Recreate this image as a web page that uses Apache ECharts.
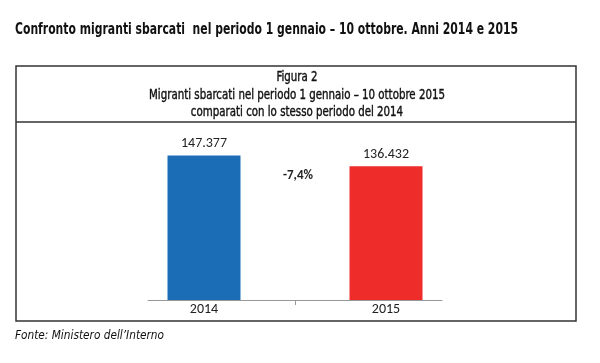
<!DOCTYPE html>
<html>
<head>
<meta charset="utf-8">
<script src="https://cdn.jsdelivr.net/npm/echarts@6/dist/echarts.min.js"></script>
<style>html,body{margin:0;padding:0;background:#fff}#c{width:600px;height:363px}</style>
</head>
<body>
<div id="c"></div>
<script>
const categories = ['2014', '2015'];
const values = [147377, 136432];
const barColors = ['#1B6DB5', '#EE2D2B'];
const mainTitle = 'Confronto migranti sbarcati  nel periodo 1 gennaio – 10 ottobre. Anni 2014 e 2015';
const figTitle = 'Figura 2';
const figSub1 = 'Migranti sbarcati nel periodo 1 gennaio – 10 ottobre 2015';
const figSub2 = 'comparati con lo stesso periodo del 2014';
const sourceText = 'Fonte: Ministero dell’Interno';

function fmtIt(v) {
  return String(v).replace(/\B(?=(\d{3})+(?!\d))/g, '.');
}
const pct = ((values[1] - values[0]) / values[0] * 100).toFixed(1).replace('.', ',') + '%';

const narrow = '"DejaVu Sans Condensed", "Liberation Sans Narrow", sans-serif';
const body = 'Carlito, "Open Sans", "Liberation Sans", sans-serif';

const mctx = document.createElement('canvas').getContext('2d');
function fitScale(text, font, targetW) {
  mctx.font = font;
  return targetW / mctx.measureText(text).width;
}
function txt(text, x, y, font, sx, align, stroke) {
  const style = { text: text, font: font, fill: '#111', textAlign: align, textVerticalAlign: 'middle' };
  if (stroke) { style.stroke = '#111'; style.lineWidth = stroke; }
  return { type: 'text', x: x, y: y, silent: true, scaleX: sx, style: style };
}
const fTitle = 'bold 15px ' + narrow;
const fHead = 'normal 14px ' + narrow;
const fSrc = 'italic 13px ' + narrow;
const headScale = fitScale(figSub1, fHead, 296);

const chart = echarts.init(document.getElementById('c'));
chart.setOption({
  animation: false,
  backgroundColor: '#fff',
  title: [
    { text: pct, left: 293, top: 164, textAlign: 'center', textStyle: { fontFamily: body, fontSize: 13, fontWeight: 'bold', color: '#222' } }
  ],
  graphic: [
    txt(mainTitle, 15, 30, fTitle, fitScale(mainTitle, fTitle, 503), 'left'),
    txt(figTitle, 297, 77, fHead, headScale, 'center', 0.4),
    txt(figSub1, 297, 95, fHead, headScale, 'center', 0.4),
    txt(figSub2, 297, 112, fHead, headScale, 'center', 0.4),
    txt(sourceText, 15, 336, fSrc, fitScale(sourceText, fSrc, 149), 'left'),
    { type: 'rect', shape: { x: 16, y: 66, width: 560, height: 255 }, style: { fill: 'none', stroke: '#333', lineWidth: 1.5 }, silent: true },
    { type: 'line', shape: { x1: 16, y1: 122, x2: 576, y2: 122 }, style: { stroke: '#333', lineWidth: 1.5 }, silent: true }
  ],
  grid: [
    { left: 113, right: 123, top: 143, bottom: 63 },
    { left: 148, right: 158, top: 143, bottom: 63 }
  ],
  xAxis: [
    {
      type: 'category', gridIndex: 0, data: categories,
      axisLine: { show: false }, axisTick: { show: false },
      axisLabel: { margin: 2, fontFamily: body, fontSize: 14, color: '#222' }
    },
    {
      type: 'value', gridIndex: 1, min: 0, max: 2,
      axisLine: { show: true, lineStyle: { color: '#999', width: 1 } },
      axisTick: { show: true, customValues: [1], length: 5, lineStyle: { color: '#999' } },
      axisLabel: { show: false }, splitLine: { show: false }
    }
  ],
  yAxis: [
    { type: 'value', gridIndex: 0, min: 0, max: 160000, show: false, splitLine: { show: false } },
    { type: 'value', gridIndex: 1, min: 0, max: 160000, show: false, splitLine: { show: false } }
  ],
  series: [{
    type: 'bar', xAxisIndex: 0, yAxisIndex: 0,
    barWidth: 73,
    data: values.map((v, i) => ({ value: v, itemStyle: { color: barColors[i] } })),
    label: {
      show: true, position: 'top', distance: 5,
      fontFamily: body, fontSize: 14, color: '#222',
      formatter: p => fmtIt(p.value)
    }
  }]
});
</script>
</body>
</html>
